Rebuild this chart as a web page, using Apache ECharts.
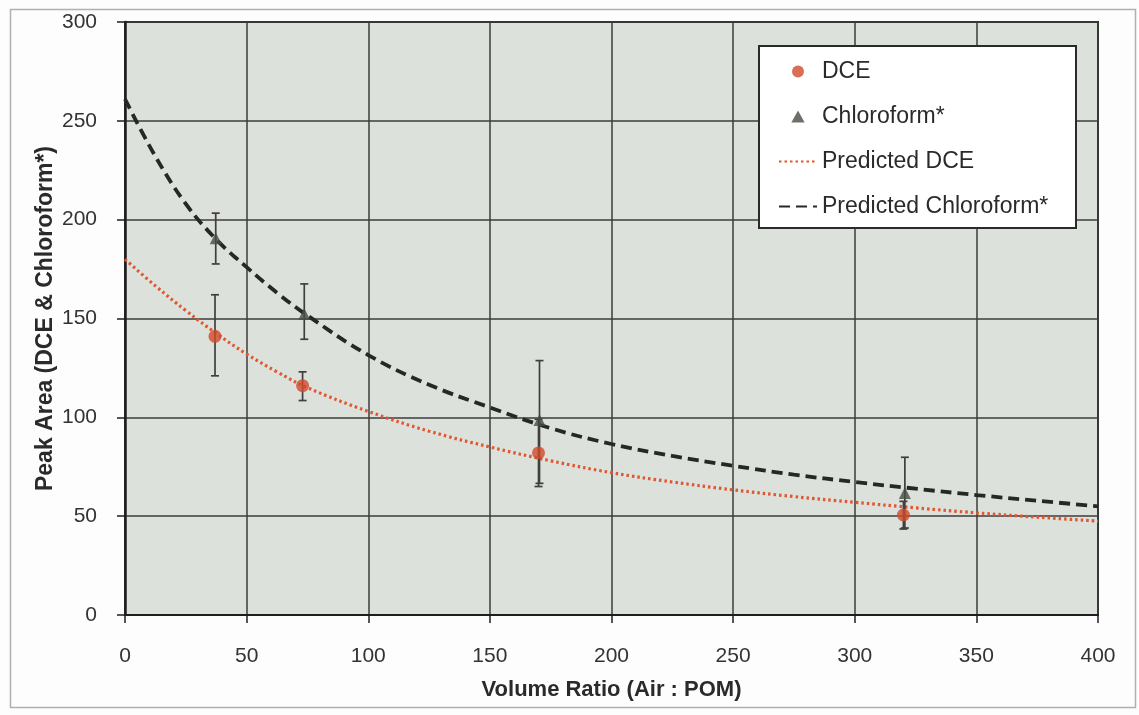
<!DOCTYPE html>
<html>
<head>
<meta charset="utf-8">
<script src="https://cdn.jsdelivr.net/npm/echarts@6/dist/echarts.min.js"></script>
<style>
html,body{margin:0;padding:0;background:#fdfdfd;}
#c{width:1139px;height:715px;}
</style>
</head>
<body>
<div id="c"></div>
<script>
// Measured data
var dceX = [37, 73, 170, 320];
var dceY = [141, 116, 82, 50.6];
var dceLow = [121, 108.5, 65, 43.5];
var dceHigh = [162, 123, 99, 57.5];

var chlX = [37.3, 73.7, 170.4, 320.6];
var chlY = [190.6, 152.3, 98.7, 61.7];
var chlLow = [177.6, 139.5, 66.6, 44];
var chlHigh = [203.3, 167.5, 128.7, 79.8];

var predX = [0, 12.5, 25, 37.5, 50, 62.5, 75, 100, 125, 150, 175, 200, 225, 250, 275, 300, 325, 350, 375, 400];
var predDCE = [180, 166.5, 154, 142.5, 132, 123, 115, 103, 93, 85, 78, 72, 67.3, 63.3, 59.9, 57, 54.2, 51.7, 49.5, 47.5];
var predChl = [261, 232, 208, 190, 176, 163, 151.5, 131.5, 116.5, 105, 94.5, 86.5, 80.5, 75.5, 71, 67.3, 63.9, 60.7, 57.8, 55];

var xTicks = [0, 50, 100, 150, 200, 250, 300, 350, 400];
var yTicks = [0, 50, 100, 150, 200, 250, 300];

function zip(a, b) { return a.map(function (v, i) { return [v, b[i]]; }); }
function errData(x, lo, hi) { return x.map(function (v, i) { return [v, lo[i], hi[i]]; }); }

function errRender(params, api) {
  var x = api.value(0);
  var lo = api.coord([x, api.value(1)]);
  var hi = api.coord([x, api.value(2)]);
  var hw = 4;
  var st = { stroke: '#3f3f3f', lineWidth: 1.7 };
  return {
    type: 'group',
    children: [
      { type: 'line', shape: { x1: lo[0], y1: lo[1], x2: hi[0], y2: hi[1] }, style: st },
      { type: 'line', shape: { x1: lo[0] - hw, y1: lo[1], x2: lo[0] + hw, y2: lo[1] }, style: st },
      { type: 'line', shape: { x1: hi[0] - hw, y1: hi[1], x2: hi[0] + hw, y2: hi[1] }, style: st }
    ]
  };
}

var chart = echarts.init(document.getElementById('c'));
var option = {
  backgroundColor: '#fdfdfd',
  animation: false,
  graphic: [
    { type: 'rect', left: 8, top: 7, shape: { width: 1125, height: 698 }, style: { fill: 'none', stroke: '#b0b0b0', lineWidth: 1.5 }, z: -1, silent: true },
    { type: 'rect', left: 758, top: 45, shape: { width: 317, height: 182 }, style: { fill: '#ffffff', stroke: '#2a2a2a', lineWidth: 2 }, z: 10, silent: true }
  ],
  grid: {
    left: 125, right: 41, top: 22, bottom: 100,
    show: true, backgroundColor: '#dde1dc', borderColor: '#2a2a2a', borderWidth: 2
  },
  legend: {
    orient: 'vertical',
    left: 773, top: 55,
    itemGap: 22,
    itemWidth: 38, itemHeight: 12,
    symbolKeepAspect: true,
    z: 11,
    textStyle: { fontFamily: 'Liberation Sans, Arial, sans-serif', fontSize: 23, color: '#2a2a2a' },
    data: [
      { name: 'DCE', icon: 'circle' },
      { name: 'Chloroform*', icon: 'path://M5,0 L10,9 L0,9 Z' },
      { name: 'Predicted DCE', itemStyle: { opacity: 0 } },
      { name: 'Predicted Chloroform*', itemStyle: { opacity: 0 } }
    ]
  },
  xAxis: {
    type: 'value', min: 0, max: 400, interval: 50,
    name: 'Volume Ratio (Air : POM)', nameLocation: 'middle', nameGap: 64, nameMoveOverlap: false,
    nameTextStyle: { fontFamily: 'Liberation Sans, Arial, sans-serif', fontWeight: 'bold', fontSize: 22, color: '#2a2a2a' },
    axisLine: { show: true, lineStyle: { color: '#1e1e1e', width: 2 } },
    axisTick: { show: true, inside: false, length: 8, lineStyle: { color: '#1e1e1e', width: 1.5 } },
    axisLabel: { margin: 31, fontFamily: 'Liberation Sans, Arial, sans-serif', fontSize: 21, color: '#333',
      formatter: function (v) { return xTicks.indexOf(v) >= 0 ? String(v) : ''; } },
    splitLine: { show: true, lineStyle: { color: '#3c3c3c', width: 1.5 } }
  },
  yAxis: {
    type: 'value', min: 0, max: 300, interval: 50,
    name: 'Peak Area (DCE & Chloroform*)', nameLocation: 'middle', nameGap: 68, nameRotate: 90, nameMoveOverlap: false,
    nameTextStyle: { fontFamily: 'Liberation Sans, Arial, sans-serif', fontWeight: 'bold', fontSize: 23, color: '#2a2a2a' },
    axisLine: { show: true, lineStyle: { color: '#1e1e1e', width: 2.5 } },
    axisTick: { show: true, inside: false, length: 8, lineStyle: { color: '#1e1e1e', width: 1.5 } },
    axisLabel: { margin: 28, fontFamily: 'Liberation Sans, Arial, sans-serif', fontSize: 21, color: '#333',
      formatter: function (v) { return yTicks.indexOf(v) >= 0 ? String(v) : ''; } },
    splitLine: { show: true, lineStyle: { color: '#3c3c3c', width: 1.5 } }
  },
  series: [
    {
      name: 'Predicted DCE', type: 'line', smooth: 0.4, showSymbol: false, symbol: 'none', z: 3,
      data: zip(predX, predDCE),
      itemStyle: { color: '#e0562f' },
      lineStyle: { color: '#e0562f', width: 3.2, type: [2.5, 3] }
    },
    {
      name: 'Predicted Chloroform*', type: 'line', smooth: 0.4, showSymbol: false, symbol: 'none', z: 3,
      data: zip(predX, predChl),
      itemStyle: { color: '#262826' },
      lineStyle: { color: '#262826', width: 3.8, type: [11, 6] }
    },
    {
      name: 'DCE-err', type: 'custom', renderItem: errRender, z: 4,
      data: errData(dceX, dceLow, dceHigh), encode: { x: 0, y: [1, 2] }
    },
    {
      name: 'Chl-err', type: 'custom', renderItem: errRender, z: 4,
      data: errData(chlX, chlLow, chlHigh), encode: { x: 0, y: [1, 2] }
    },
    {
      name: 'DCE', type: 'scatter', symbol: 'circle', symbolSize: 13, z: 5,
      itemStyle: { color: '#cf4a2a' },
      data: zip(dceX, dceY)
    },
    {
      name: 'Chloroform*', type: 'scatter', symbol: 'triangle', symbolSize: 12, z: 5,
      itemStyle: { color: '#474d42' },
      data: zip(chlX, chlY)
    }
  ]
};
chart.setOption(option);
</script>
</body>
</html>
